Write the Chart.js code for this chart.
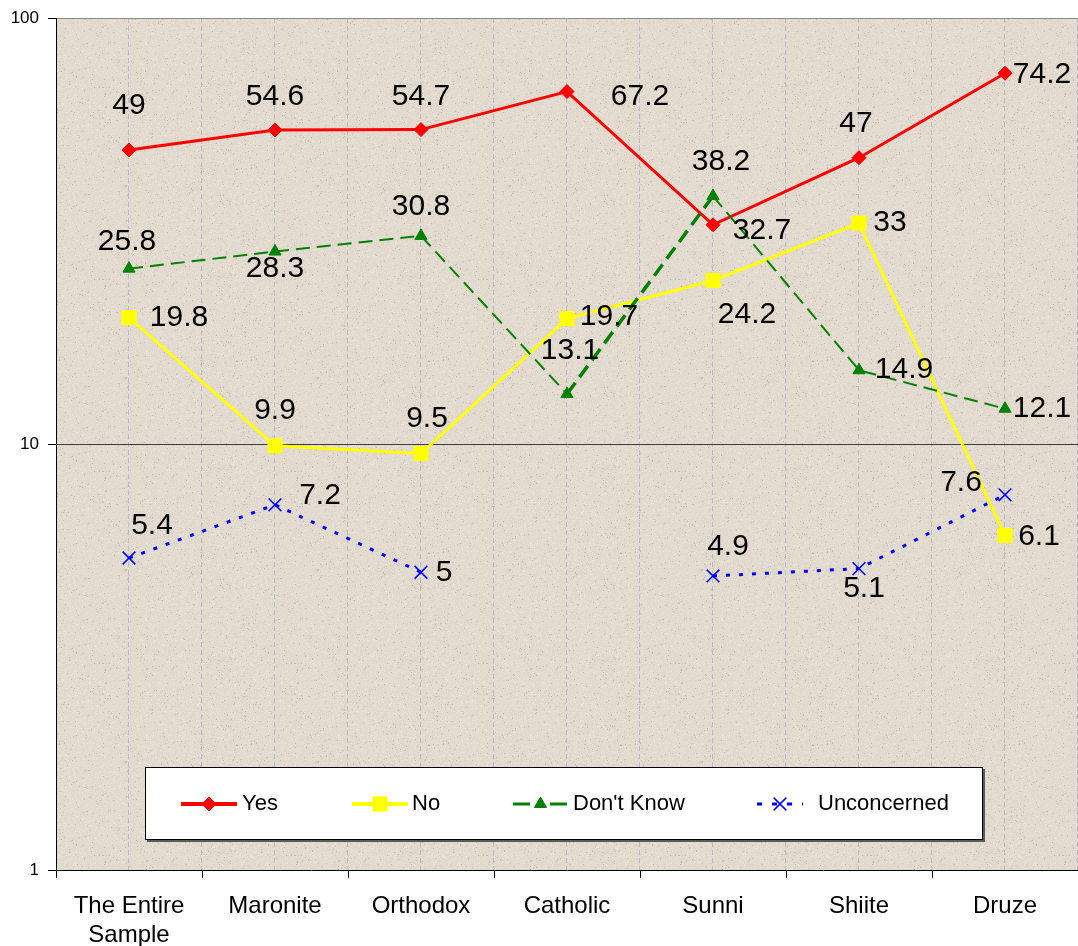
<!DOCTYPE html>
<html>
<head>
<meta charset="utf-8">
<script src="https://cdn.jsdelivr.net/npm/chart.js@4/dist/chart.umd.min.js"></script>
<style>
  html, body { margin: 0; padding: 0; background: #ffffff; }
  canvas { display: block; }
</style>
</head>
<body>
<canvas id="chart" width="1078" height="946"></canvas>
<script>
// Categories and series (percent, log scale)
const categories = [['The Entire', 'Sample'], 'Maronite', 'Orthodox', 'Catholic', 'Sunni', 'Shiite', 'Druze'];
const yesValues = [49, 54.6, 54.7, 67.2, 32.7, 47, 74.2];
const noValues = [19.8, 9.9, 9.5, 19.7, 24.2, 33, 6.1];
const dontKnowValues = [25.8, 28.3, 30.8, 13.1, 38.2, 14.9, 12.1];
const unconcernedValues = [5.4, 7.2, 5, null, 4.9, 5.1, 7.6];
const yTickValues = [1, 10, 100];

// Where each value label sits relative to its point, in px [dx, dy]
const yesLabelOffsets = [[0, -44], [0, -33], [0, -33], [73, 5], [49, 6], [-3, -34], [37, 2]];
const noLabelOffsets = [[50, 0], [0, -35], [6, -35], [42, -2], [34, 34], [31, 0], [34, 1]];
const dontKnowLabelOffsets = [[-2, -27], [0, 17], [0, -29], [3, -43], [8, -34], [45, 0], [37, 0]];
const unconcernedLabelOffsets = [[23, -32], [45, -9], [23, 0], [0, 0], [15, -29], [5, 20], [-44, -12]];

const FONT = '"Liberation Sans", Arial, Helvetica, sans-serif';

// Granite-like paper grain for the plot area
function makeGrain() {
  const size = 192;
  const c = document.createElement('canvas');
  c.width = size; c.height = size;
  const g = c.getContext('2d');
  const img = g.createImageData(size, size);
  let s = 987654321;
  const next = () => { s = (s * 1664525 + 1013904223) >>> 0; return s / 4294967296; };
  for (let i = 0; i < size * size; i++) {
    const v = (next() - 0.5) * 10;
    let r = 226 + v, gg = 218 + v, b = 206 + v;
    const k = next();
    if (k < 0.02) { r -= 26; gg -= 30; b -= 34; }
    else if (k < 0.045) { r += 9; gg += 9; b += 10; }
    img.data[i * 4] = r; img.data[i * 4 + 1] = gg; img.data[i * 4 + 2] = b; img.data[i * 4 + 3] = 255;
  }
  g.putImageData(img, 0, 0);
  return c;
}
const grain = makeGrain();

const plotBackground = {
  id: 'plotBackground',
  beforeDraw(chart) {
    const { ctx, chartArea: a } = chart;
    ctx.save();
    ctx.fillStyle = ctx.createPattern(grain, 'repeat');
    ctx.fillRect(a.left, a.top, a.right - a.left, a.bottom - a.top);
    // dashed vertical guides at every category centre and boundary
    const step = (a.right - a.left) / (categories.length * 2);
    ctx.strokeStyle = '#b6bcc6';
    ctx.lineWidth = 1;
    ctx.setLineDash([5, 3]);
    for (let k = 1; k <= categories.length * 2; k++) {
      const x = Math.min(Math.round(a.left + k * step), a.right) - 0.5;
      ctx.beginPath();
      ctx.moveTo(x, a.top);
      ctx.lineTo(x, a.bottom);
      ctx.stroke();
    }
    ctx.restore();
  }
};

const valueLabels = {
  id: 'valueLabels',
  afterDatasetsDraw(chart) {
    const ctx = chart.ctx;
    ctx.save();
    ctx.font = '30px ' + FONT;
    ctx.fillStyle = '#000000';
    ctx.textAlign = 'center';
    ctx.textBaseline = 'middle';
    chart.data.datasets.forEach((ds, i) => {
      const meta = chart.getDatasetMeta(i);
      ds.data.forEach((v, j) => {
        if (v == null) return;
        const p = meta.data[j];
        const o = ds.labelOffsets[j];
        ctx.fillText(String(v), p.x + o[0], p.y + o[1]);
      });
    });
    ctx.restore();
  }
};

const boxLegend = {
  id: 'boxLegend',
  afterDraw(chart) {
    const ctx = chart.ctx;
    const box = { x: 145, y: 767, w: 838, h: 73 };
    ctx.save();
    // shadow
    ctx.fillStyle = '#5a5a5a';
    ctx.fillRect(box.x + 2, box.y + 2, box.w, box.h);
    ctx.fillStyle = '#ffffff';
    ctx.fillRect(box.x, box.y, box.w, box.h);
    ctx.strokeStyle = '#000000';
    ctx.lineWidth = 1;
    ctx.strokeRect(box.x + 0.5, box.y + 0.5, box.w - 1, box.h - 1);

    const cy = box.y + 37;
    const items = [
      { ds: 0, x0: 181, x1: 237, tx: 242 },
      { ds: 1, x0: 352, x1: 408, tx: 412 },
      { ds: 2, x0: 513, x1: 568, tx: 573 },
      { ds: 3, x0: 757, x1: 803, tx: 818 }
    ];
    items.forEach(it => {
      const ds = chart.data.datasets[it.ds];
      ctx.save();
      ctx.strokeStyle = ds.borderColor;
      ctx.lineWidth = ds.legendLineWidth;
      ctx.setLineDash(ds.legendDash || []);
      ctx.beginPath();
      ctx.moveTo(it.x0, cy);
      ctx.lineTo(it.x1, cy);
      ctx.stroke();
      ctx.setLineDash([]);
      ctx.fillStyle = ds.pointBackgroundColor;
      ctx.strokeStyle = ds.pointBorderColor;
      ctx.lineWidth = ds.pointBorderWidth;
      Chart.helpers.drawPoint(ctx, {
        pointStyle: ds.pointStyle,
        radius: ds.pointRadius,
        rotation: 0,
        borderWidth: ds.pointBorderWidth
      }, (it.x0 + it.x1) / 2, cy);
      ctx.restore();
      ctx.fillStyle = '#000000';
      ctx.font = '22px ' + FONT;
      ctx.textAlign = 'left';
      ctx.textBaseline = 'middle';
      ctx.fillText(ds.label, it.tx, cy);
    });
    ctx.restore();
  }
};

new Chart(document.getElementById('chart'), {
  type: 'line',
  data: {
    labels: categories,
    datasets: [
      {
        label: 'Yes',
        data: yesValues,
        labelOffsets: yesLabelOffsets,
        borderColor: '#ff0000',
        borderWidth: 3,
        legendLineWidth: 4,
        pointStyle: 'rectRot',
        pointRadius: 7,
        pointBackgroundColor: '#ff0000',
        pointBorderColor: '#ff0000',
        pointBorderWidth: 1,
        tension: 0,
        order: 4
      },
      {
        label: 'No',
        data: noValues,
        labelOffsets: noLabelOffsets,
        borderColor: '#ffff00',
        borderWidth: 3,
        legendLineWidth: 4,
        pointStyle: 'rect',
        pointRadius: 10,
        pointBackgroundColor: '#ffff00',
        pointBorderColor: '#ffff00',
        pointBorderWidth: 1,
        tension: 0,
        order: 3
      },
      {
        label: "Don't Know",
        data: dontKnowValues,
        labelOffsets: dontKnowLabelOffsets,
        borderColor: '#008000',
        borderWidth: 2,
        borderDash: [14, 7],
        legendLineWidth: 3,
        legendDash: [17, 10, 2, 8],
        segment: {
          borderWidth: c => (c.p0DataIndex === 3 ? 3.5 : 2)
        },
        pointStyle: 'triangle',
        pointRadius: 7,
        pointBackgroundColor: '#008000',
        pointBorderColor: '#008000',
        pointBorderWidth: 1,
        tension: 0,
        order: 2
      },
      {
        label: 'Unconcerned',
        data: unconcernedValues,
        labelOffsets: unconcernedLabelOffsets,
        borderColor: '#0000ff',
        borderWidth: 3,
        borderDash: [4, 9],
        legendLineWidth: 3,
        legendDash: [5, 10],
        spanGaps: false,
        pointStyle: 'crossRot',
        pointRadius: 9,
        pointBackgroundColor: '#0000ff',
        pointBorderColor: '#0000ff',
        pointBorderWidth: 1.5,
        tension: 0,
        order: 1
      }
    ]
  },
  options: {
    responsive: false,
    devicePixelRatio: 1,
    animation: false,
    layout: { autoPadding: false, padding: { top: 18, left: 0, right: 0, bottom: 0 } },
    plugins: {
      legend: { display: false },
      tooltip: { enabled: false },
      title: { display: false }
    },
    scales: {
      x: {
        type: 'category',
        offset: true,
        grid: {
          display: true,
          offset: true,
          drawOnChartArea: false,
          drawTicks: true,
          tickLength: 8,
          tickColor: '#000000'
        },
        border: { display: true, color: '#000000', width: 1 },
        ticks: {
          color: '#000000',
          font: { family: FONT, size: 24, lineHeight: 1.2 },
          padding: 14,
          maxRotation: 0,
          autoSkip: false
        },
        afterFit: s => { s.height = 76; s.paddingLeft = 0; s.paddingRight = 0; }
      },
      y: {
        type: 'logarithmic',
        min: 1,
        max: 100,
        afterBuildTicks: s => { s.ticks = yTickValues.map(v => ({ value: v })); },
        grid: {
          color: c => {
            if (!c.tick) return 'rgba(0,0,0,0)';
            if (c.tick.value === 10) return '#3c3c3c';
            if (c.tick.value === 100) return '#8a8a8a';
            return 'rgba(0,0,0,0)';
          },
          lineWidth: 1,
          drawTicks: true,
          tickLength: 8,
          tickColor: '#000000'
        },
        border: { display: true, color: '#000000', width: 1 },
        ticks: {
          color: '#000000',
          font: { family: FONT, size: 17 },
          padding: 9,
          callback: v => String(v)
        },
        afterFit: s => { s.width = 56; s.paddingTop = 0; s.paddingBottom = 0; }
      }
    }
  },
  plugins: [plotBackground, valueLabels, boxLegend]
});
</script>
</body>
</html>
